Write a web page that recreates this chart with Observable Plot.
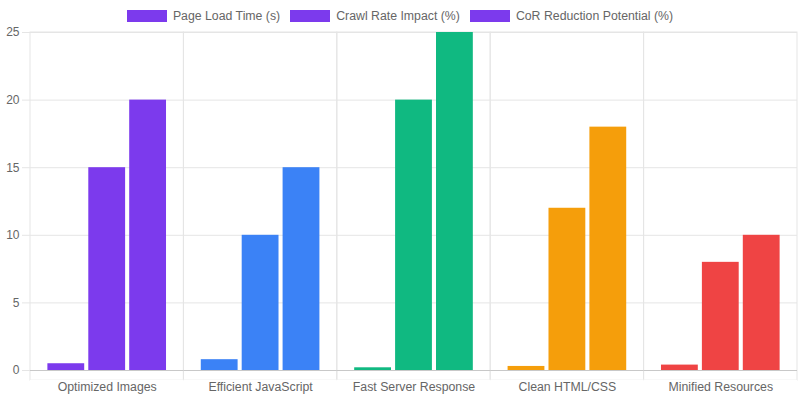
<!DOCTYPE html>
<html>
<head>
<meta charset="utf-8">
<script src="https://cdn.jsdelivr.net/npm/d3@7"></script>
<script src="https://cdn.jsdelivr.net/npm/@observablehq/plot@0.6"></script>
<style>
  body { margin: 0; background: #fff; font-family: "Liberation Sans", Arial, Helvetica, sans-serif; }
  #legend { display: flex; justify-content: center; align-items: center; height: 26px; box-sizing: border-box; padding-top: 10px; padding-bottom: 4px; font-size: 12.3px; color: #666; }
  .item { display: flex; align-items: center; margin: 0 5px; }
  .sw { width: 40px; height: 12px; margin-right: 6px; }
</style>
</head>
<body>
<div id="legend"></div>
<div id="chart"></div>
<script>
const categories = ["Optimized Images", "Efficient JavaScript", "Fast Server Response", "Clean HTML/CSS", "Minified Resources"];
const series = ["Page Load Time (s)", "Crawl Rate Impact (%)", "CoR Reduction Potential (%)"];
const pageLoadTime = [0.5, 0.8, 0.2, 0.3, 0.4];
const crawlRateImpact = [15, 10, 20, 12, 8];
const corReduction = [20, 15, 25, 18, 10];
const colors = ["#7c3aed", "#3b82f6", "#10b981", "#f59e0b", "#ef4444"];
const yTicks = [0, 5, 10, 15, 20, 25];

const seriesValues = [pageLoadTime, crawlRateImpact, corReduction];
const data = [];
categories.forEach((c, i) => {
  series.forEach((s, j) => data.push({category: c, series: s, value: seriesValues[j][i]}));
});

const legend = document.getElementById("legend");
series.forEach((s) => {
  const it = document.createElement("div");
  it.className = "item";
  it.innerHTML = `<div class="sw" style="background:${colors[0]}"></div><span>${s}</span>`;
  legend.appendChild(it);
});

const tickExt = -0.75; // length of the category-boundary ticks below the axis, in y units

const chart = Plot.plot({
  width: 800,
  height: 374,
  marginTop: 6,
  marginBottom: 30,
  marginLeft: 30,
  marginRight: 3,
  style: {fontFamily: "'Liberation Sans', Arial, Helvetica, sans-serif", fontSize: "12px", color: "#666", background: "#fff"},
  fx: {domain: categories, paddingInner: 0, paddingOuter: 0, round: false, label: null},
  x: {domain: series, paddingInner: 0.1, paddingOuter: 0.425, round: false, axis: null},
  y: {domain: [0, 25], label: null},
  color: {domain: categories, range: colors},
  marks: [
    Plot.gridY(yTicks, {stroke: "#e5e5e5", strokeOpacity: 1}),
    Plot.rect([0], {y1: tickExt, y2: 25, stroke: "#e5e5e5", fill: "none"}),
    Plot.ruleY([tickExt], {stroke: "#fff", strokeWidth: 2}),
    Plot.barY(data, {fx: "category", x: "series", y: "value", fill: "category"}),
    Plot.ruleY([0], {stroke: "#c8c8c8"}),
    Plot.axisY(yTicks, {tickSize: 8, tickPadding: 3, stroke: "#e5e5e5", fill: "#666", fontSize: 12, label: null}),
    Plot.axisFx({anchor: "bottom", tickSize: 0, tickPadding: 12, label: null, fill: "#666", fontSize: 12.3})
  ]
});
document.getElementById("chart").appendChild(chart);
</script>
</body>
</html>
